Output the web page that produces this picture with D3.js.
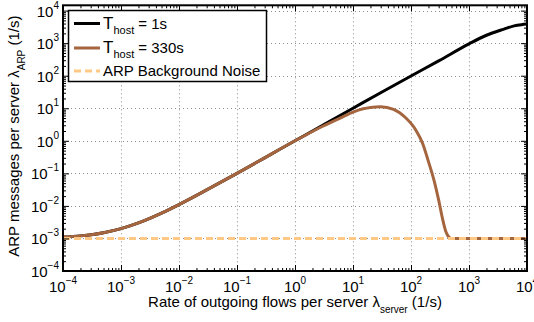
<!DOCTYPE html>
<html>
<head>
<meta charset="utf-8">
<script src="https://cdn.jsdelivr.net/npm/d3@7"></script>
<style>
  html, body { margin: 0; padding: 0; background: #fff; }
  svg { display: block; font-family: "Liberation Sans", Arial, Helvetica, sans-serif; }
</style>
</head>
<body>
<svg id="chart" width="534" height="322"></svg>
<script>
// Flow rate per server (1/s) at which each curve was sampled
const xShort = [1e-4, 2e-4, 5e-4, 1e-3, 2e-3, 5e-3, 1e-2, 3e-2, 0.1, 0.3, 1, 3, 10, 30, 100, 300, 1000, 2000, 4000, 6000, 8000, 10000];
// ARP messages per server, host timeout 1 s
const arpShort = [1.1e-3, 1.2e-3, 1.5e-3, 2.0e-3, 3.0e-3, 6.0e-3, 1.1e-2, 3.1e-2, 0.1, 0.3, 1.0, 3.0, 10, 30, 98, 285, 950, 1750, 2700, 3400, 3700, 3850];

const xLong = [1e-4, 2e-4, 5e-4, 1e-3, 2e-3, 5e-3, 1e-2, 3e-2, 0.1, 0.3, 1, 3, 6, 10, 15, 20, 30, 50, 80, 120, 160, 200, 250, 300, 350, 400, 450, 500, 700, 1000, 3000, 10000];
// ARP messages per server, host timeout 330 s
const arpLong = [1.1e-3, 1.2e-3, 1.5e-3, 2.0e-3, 3.0e-3, 6.0e-3, 1.1e-2, 3.1e-2, 0.1, 0.3, 1.0, 2.8, 5.0, 7.6, 9.6, 10.6, 11.2, 9.3, 5.2, 2.2, 0.8, 0.23, 0.06, 0.015, 0.004, 0.0016, 0.0011, 0.001, 0.001, 0.001, 0.001, 0.001];

// Background ARP noise level
const xNoise = [1e-4, 1e4];
const arpNoise = [1e-3, 1e-3];

const xTickExps = [-4, -3, -2, -1, 0, 1, 2, 3, 4];
const yTickExps = [-4, -3, -2, -1, 0, 1, 2, 3, 4];

const legendLabels = [
  { main: "T", sub: "host", rest: " = 1s" },
  { main: "T", sub: "host", rest: " = 330s" },
  { main: "ARP Background Noise", sub: "", rest: "" }
];

const colBlack = "#000000";
const colBrown = "#a5653e";
const colNoise = "#ffc985";

const svg = d3.select("#chart");
const pLeft = 63, pRight = 527, pTop = 5.3, pBottom = 271;

const x = d3.scaleLog().domain([1e-4, 1e4]).range([pLeft, pRight]);
const yTopVal = Math.pow(10, 4.163);
const y = d3.scaleLog().domain([1e-4, yTopVal]).range([pBottom, pTop]);

const expText = e => (e < 0 ? "\u2212" + Math.abs(e) : String(e));

// dotted grid at each decade
const grid = svg.append("g").attr("stroke", "#8c8c8c").attr("stroke-width", 1).attr("stroke-dasharray", "1,3");
xTickExps.slice(1, -1).forEach(e => {
  const px = Math.round(x(Math.pow(10, e))) + 0.5;
  grid.append("line").attr("x1", px).attr("x2", px).attr("y1", pTop).attr("y2", pBottom);
});
yTickExps.slice(1).forEach(e => {
  const py = Math.round(y(Math.pow(10, e))) + 0.5;
  grid.append("line").attr("x1", pLeft).attr("x2", pRight).attr("y1", py).attr("y2", py);
});

// clip for the data lines
svg.append("defs").append("clipPath").attr("id", "plotClip")
  .append("rect").attr("x", pLeft).attr("y", pTop).attr("width", pRight - pLeft).attr("height", pBottom - pTop);

const line = d3.line().x(d => x(d[0])).y(d => y(d[1])).curve(d3.curveMonotoneX);
const plot = svg.append("g").attr("clip-path", "url(#plotClip)");

plot.append("path").datum(d3.zip(xShort, arpShort))
  .attr("d", line).attr("fill", "none").attr("stroke", colBlack).attr("stroke-width", 3).attr("stroke-linejoin", "round");
plot.append("path").datum(d3.zip(xLong, arpLong))
  .attr("d", line).attr("fill", "none").attr("stroke", colBrown).attr("stroke-width", 3).attr("stroke-linejoin", "round");
plot.append("path").datum(d3.zip(xNoise, arpNoise))
  .attr("d", line).attr("fill", "none").attr("stroke", colNoise).attr("stroke-width", 3).attr("stroke-dasharray", "7,4");

// axes: ticks pointing inward on all four sides, via d3 axis generators
function logTicks(scale) {
  const [a, b] = scale.domain();
  const major = [], minor = [];
  for (let e = -4; e <= 4; e++) {
    for (let m = 1; m <= 9; m++) {
      const v = m * Math.pow(10, e);
      if (v < a * 0.999 || v > b * 1.001) continue;
      (m === 1 ? major : minor).push(v);
    }
  }
  return { major, minor };
}
const xt = logTicks(x), yt = logTicks(y);

function drawAxis(gen, transform, vals, size) {
  const g = svg.append("g").attr("transform", transform)
    .call(gen.tickValues(vals).tickSize(size).tickFormat(""));
  g.select(".domain").remove();
  g.selectAll(".tick line").attr("stroke", "#000").attr("stroke-width", 1);
  return g;
}
// bottom / top
drawAxis(d3.axisTop(x), `translate(0,${pBottom})`, xt.major, 6);
drawAxis(d3.axisTop(x), `translate(0,${pBottom})`, xt.minor, 3);
drawAxis(d3.axisBottom(x), `translate(0,${pTop})`, xt.major, 6);
drawAxis(d3.axisBottom(x), `translate(0,${pTop})`, xt.minor, 3);
// left / right
drawAxis(d3.axisRight(y), `translate(${pLeft},0)`, yt.major, 6);
drawAxis(d3.axisRight(y), `translate(${pLeft},0)`, yt.minor, 3);
drawAxis(d3.axisLeft(y), `translate(${pRight},0)`, yt.major, 6);
drawAxis(d3.axisLeft(y), `translate(${pRight},0)`, yt.minor, 3);

// frame
svg.append("rect").attr("x", pLeft).attr("y", pTop).attr("width", pRight - pLeft).attr("height", pBottom - pTop)
  .attr("fill", "none").attr("stroke", "#000").attr("stroke-width", 2);

// tick labels (10 with superscript exponent)
const fs = 15, fsSup = 10;
xTickExps.forEach(e => {
  const t = svg.append("text").attr("x", x(Math.pow(10, e))).attr("y", 292)
    .attr("text-anchor", "middle").attr("font-size", fs).attr("fill", "#000");
  t.append("tspan").text("10");
  t.append("tspan").attr("dy", -8).attr("font-size", fsSup).text(expText(e));
});
yTickExps.forEach(e => {
  const t = svg.append("text").attr("x", 59).attr("y", y(Math.pow(10, e)) + 6)
    .attr("text-anchor", "end").attr("font-size", fs).attr("fill", "#000");
  t.append("tspan").text("10");
  t.append("tspan").attr("dy", -8).attr("font-size", fsSup).text(expText(e));
});

// axis titles
const xTitle = svg.append("text").attr("x", 295).attr("y", 307).attr("text-anchor", "middle")
  .attr("font-size", fs).attr("fill", "#000");
xTitle.append("tspan").text("Rate of outgoing flows per server \u03bb");
xTitle.append("tspan").attr("dy", 6).attr("font-size", fsSup).text("server");
xTitle.append("tspan").attr("dy", -6).text(" (1/s)");

const yTitle = svg.append("text").attr("transform", `translate(19,${(pTop + pBottom) / 2 - 2}) rotate(-90)`)
  .attr("text-anchor", "middle").attr("font-size", fs).attr("fill", "#000");
yTitle.append("tspan").text("ARP messages per server \u03bb");
yTitle.append("tspan").attr("dy", 6).attr("font-size", fsSup).text("ARP");
yTitle.append("tspan").attr("dy", -6).text(" (1/s)");

// legend
const lg = svg.append("g");
lg.append("rect").attr("x", 68.5).attr("y", 10.5).attr("width", 198).attr("height", 71)
  .attr("fill", "#fff").attr("stroke", "#000").attr("stroke-width", 1.5);
const legendStyles = [
  { color: colBlack, dash: null, y: 23.5 },
  { color: colBrown, dash: null, y: 48 },
  { color: colNoise, dash: "7,4", y: 71 }
];
legendLabels.forEach((lab, i) => {
  const s = legendStyles[i];
  const l = lg.append("line").attr("x1", 74).attr("x2", 100).attr("y1", s.y).attr("y2", s.y)
    .attr("stroke", s.color).attr("stroke-width", 3);
  if (s.dash) l.attr("stroke-dasharray", s.dash);
  const t = lg.append("text").attr("x", 103).attr("y", s.y + 5).attr("font-size", fs).attr("fill", "#000");
  if (lab.sub) {
    t.append("tspan").attr("font-size", 17).text(lab.main);
    t.append("tspan").attr("dy", 5).attr("font-size", fsSup + 1).text(lab.sub);
    t.append("tspan").attr("dy", -5).text(lab.rest);
  } else {
    t.text(lab.main);
  }
});
</script>
</body>
</html>
